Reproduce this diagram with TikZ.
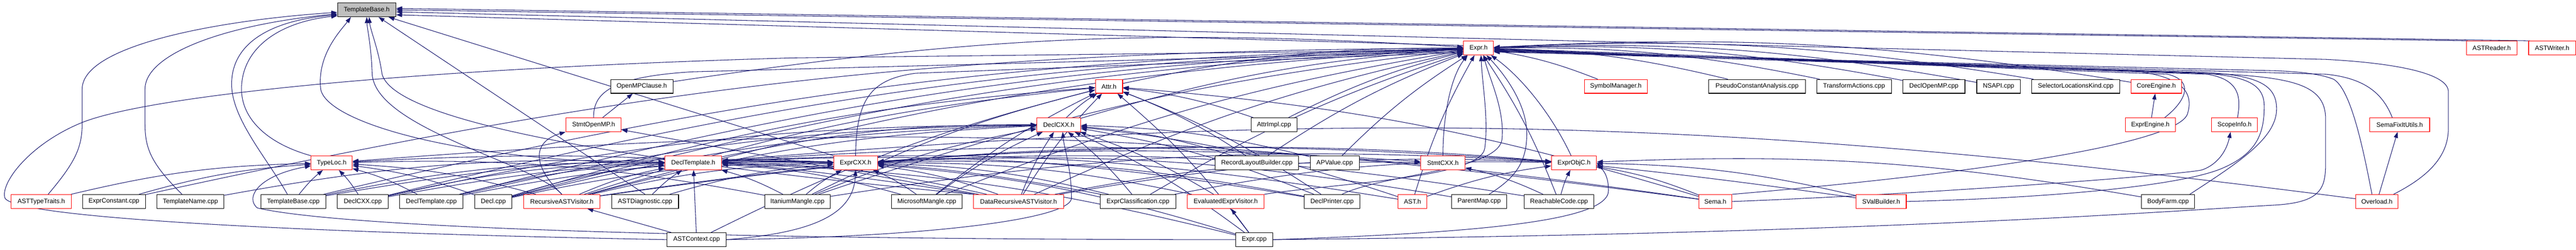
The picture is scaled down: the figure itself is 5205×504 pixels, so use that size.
\documentclass[tikz,border=0pt]{standalone}
\usepackage{fontspec}
\setmainfont{Liberation Sans}
\usetikzlibrary{arrows.meta,backgrounds}
\definecolor{edgec}{HTML}{191970}
\definecolor{redc}{HTML}{FF0000}
\definecolor{grayc}{HTML}{BFBFBF}
\tikzset{
  nd/.style={draw=black, fill=white, line width=0.11pt, minimum height=2.8pt, inner sep=0pt, font=\fontsize{1.29}{1.4}\selectfont},
  rd/.style={nd, draw=redc},
  gd/.style={nd, fill=grayc},
  edg/.style={draw=edgec, line width=0.11pt, -{Triangle[length=1.2pt,width=0.85pt]}},
}
\begin{document}
\begin{tikzpicture}[x=0.1pt,y=-0.1pt]
\useasboundingbox (0,0) rectangle (5205,504);
% row 0
\node[gd, minimum width=11.8pt] (tb) at (741,20) {TemplateBase.h};
% row 1
\node[rd, minimum width=6.04pt] (exprh) at (2987.5,97) {Expr.h};
\node[rd, minimum width=10.2pt] (astreader) at (5034.7,97) {ASTReader.h};
\node[rd, minimum width=9.5pt] (astwriter) at (5156.7,97) {ASTWriter.h};
% row 2
\node[rd, minimum width=5.5pt] (attrh) at (2240.8,174.5) {Attr.h};
\node[nd, minimum width=12.57pt] (openmpclause) at (1296.8,174.5) {OpenMPClause.h};
\node[rd, minimum width=12.67pt] (symbolmgr) at (3265,174.5) {SymbolManager.h};
\node[nd, minimum width=19.5pt] (pseudo) at (3550.2,174.5) {PseudoConstantAnalysis.cpp};
\node[nd, minimum width=15.1pt] (transform) at (3746.2,174.5) {TransformActions.cpp};
\node[nd, minimum width=12.57pt] (declopenmp) at (3907.5,174.5) {DeclOpenMP.cpp};
\node[nd, minimum width=8.8pt] (nsapi) at (4038.3,174.5) {NSAPI.cpp};
\node[nd, minimum width=17.77pt] (selector) at (4194.2,174.5) {SelectorLocationsKind.cpp};
\node[rd, minimum width=10.17pt] (coreengine) at (4356.9,174.5) {CoreEngine.h};
% row 3
\node[rd, minimum width=11.2pt] (stmtopenmp) at (1199.3,252) {StmtOpenMP.h};
\node[rd, minimum width=8.8pt] (declcxxh) at (2139.3,252) {DeclCXX.h};
\node[nd, minimum width=9.33pt] (attrimpl) at (2574.3,252) {AttrImpl.cpp};
\node[rd, minimum width=10.07pt] (exprengine) at (4345,252) {ExprEngine.h};
\node[rd, minimum width=9.3pt] (scopeinfo) at (4515,252) {ScopeInfo.h};
\node[rd, minimum width=12.13pt] (semafixit) at (4848.7,252) {SemaFixItUtils.h};
% row 4
\node[rd, minimum width=8.3pt] (typeloc) at (670.2,329) {TypeLoc.h};
\node[rd, minimum width=11.5pt] (decltemplateh) at (1400.8,329) {DeclTemplate.h};
\node[rd, minimum width=8.83pt] (exprcxxh) at (1728.8,329) {ExprCXX.h};
\node[nd, minimum width=16.84pt] (recordlayout) at (2539.5,329) {RecordLayoutBuilder.cpp};
\node[nd, minimum width=9.9pt] (apvalue) at (2696.8,329) {APValue.cpp};
\node[rd, minimum width=8.96pt] (stmtcxx) at (2915.5,329) {StmtCXX.h};
\node[rd, minimum width=9.1pt] (exprobjc) at (3180.5,329) {ExprObjC.h};
% row 5
\node[rd, minimum width=12.13pt] (asttypetraits) at (83.3,407) {ASTTypeTraits.h};
\node[nd, minimum width=12.7pt] (exprconstant) at (230.2,407) {ExprConstant.cpp};
\node[nd, minimum width=13.6pt] (templatename) at (384.7,407) {TemplateName.cpp};
\node[nd, minimum width=13.07pt] (templatebasecpp) at (592.7,407) {TemplateBase.cpp};
\node[nd, minimum width=10.26pt] (declcxxcpp) at (733,407) {DeclCXX.cpp};
\node[nd, minimum width=12.84pt] (decltemplatecpp) at (871.5,407) {DeclTemplate.cpp};
\node[nd, minimum width=7.5pt] (declcpp) at (996.8,407) {Decl.cpp};
\node[rd, minimum width=15.47pt] (recursive) at (1135.3,407) {RecursiveASTVisitor.h};
\node[nd, minimum width=13.5pt] (astdiag) at (1303.5,407) {ASTDiagnostic.cpp};
\node[nd, minimum width=13.2pt] (itanium) at (1611.3,407) {ItaniumMangle.cpp};
\node[nd, minimum width=14.27pt] (microsoft) at (1872.7,407) {MicrosoftMangle.cpp};
\node[rd, minimum width=18.26pt] (datarec) at (2058,407) {DataRecursiveASTVisitor.h};
\node[nd, minimum width=15.33pt] (exprclass) at (2299.3,407) {ExprClassification.cpp};
\node[rd, minimum width=15.47pt] (evaluated) at (2476.7,407) {EvaluatedExprVisitor.h};
\node[nd, minimum width=11.24pt] (declprinter) at (2691.5,407) {DeclPrinter.cpp};
\node[rd, minimum width=5.86pt] (asth) at (2854,407) {AST.h};
\node[nd, minimum width=11.1pt] (parentmap) at (2988.8,407) {ParentMap.cpp};
\node[nd, minimum width=14pt] (reachable) at (3150,407) {ReachableCode.cpp};
\node[rd, minimum width=6.66pt] (semah) at (3466,407) {Sema.h};
\node[rd, minimum width=10.14pt] (svalbuilder) at (3801,407) {SValBuilder.h};
\node[nd, minimum width=10.67pt] (bodyfarm) at (4380.7,407) {BodyFarm.cpp};
\node[rd, minimum width=8.6pt] (overload) at (4802.7,407) {Overload.h};
% row 6
\node[nd, minimum width=11.9pt] (astcontext) at (1407.5,484) {ASTContext.cpp};
\node[nd, minimum width=7.5pt] (exprcpp) at (2534.2,484) {Expr.cpp};

\begin{scope}[on background layer]
\fill[white] (0,0) rectangle (5205,504);
% into TemplateBase.h
\draw[edg] ([xshift=1.4pt]asttypetraits.north) .. controls (150,330) and (166,300) .. (166,250) -- (166,180) .. controls (166,90) and (450,40) .. ([yshift=-0.5pt]tb.west);
\draw[edg] ([xshift=-1.7pt]templatename.north) .. controls (305,330) and (293,300) .. (293,250) -- (293,180) .. controls (293,110) and (450,50) .. ([yshift=-0.8pt]tb.west);
\draw[edg] ([xshift=-1.2pt]templatebasecpp.north) .. controls (540,320) and (468,240) .. (468,170) .. controls (468,80) and (560,40) .. ([yshift=-1pt]tb.west);
\draw[edg] (typeloc.north west) .. controls (540,290) and (488,240) .. (488,180) .. controls (488,100) and (560,45) .. ([yshift=-1.2pt]tb.west);
\draw[edg] (decltemplateh.west) .. controls (950,330) and (660,250) .. (648,180) .. controls (640,110) and (690,60) .. ([xshift=-3.2pt]tb.south);
\draw[edg] (recursive.north) .. controls (1080,330) and (760,260) .. (752,150) .. controls (750,90) and (742,60) .. (tb.south);
\draw[edg] (datarec.north west) .. controls (1300,330) and (800,250) .. (772,150) .. controls (765,100) and (748,60) .. ([xshift=0.5pt]tb.south);
\draw[edg] (astdiag.north) -- ([xshift=2.4pt]tb.south);
\draw[edg] (exprcxxh.north west) -- ([xshift=4.4pt]tb.south);
\draw[edg] ([yshift=0.5pt]exprh.west) -- ([yshift=-1pt]tb.east);
\draw[edg] ([xshift=0.3pt]astreader.north west) -- (tb.east);
\draw[edg] ([xshift=0.3pt]astwriter.north west) -- ([yshift=0.3pt]tb.east);
\draw[edg] ([xshift=-1pt]overload.north east) .. controls (4900,360) and (4947,320) .. (4947,260) -- (4947,185) .. controls (4947,150) and (4850,128) .. (4700,120) -- ([yshift=-0.4pt]tb.east);
% special curves into Expr.h
\draw[edg] (astcontext.west) .. controls (600,470) and (30,440) .. (10,400) .. controls (0,370) and (60,290) .. (167,247) .. controls (300,195) and (800,140) .. (1600,117) -- ([yshift=-0.4pt]exprh.west);
\draw[edg] (exprcxxh.north) .. controls (1730,200) and (1760,160) .. (1850,148) -- ([yshift=-0.9pt]exprh.west);
\draw[edg] (stmtopenmp.north) .. controls (1199,190) and (1230,155) .. (1400,145) -- ([yshift=-0.7pt]exprh.west);
\draw[edg] (stmtcxx.north) .. controls (2916,220) and (2935,150) .. ([xshift=-2.2pt]exprh.south);
\draw[edg] ([xshift=-0.6pt]exprobjc.north) .. controls (3140,240) and (3080,160) .. ([xshift=2.5pt]exprh.south);
\draw[edg] (evaluated.north east) .. controls (2700,370) and (2990,360) .. (3000,300) .. controls (3008,240) and (2995,170) .. ([xshift=0.5pt]exprh.south);
\draw[edg] ([xshift=2pt]declprinter.north) .. controls (2800,350) and (3030,345) .. (3035,280) .. controls (3040,220) and (3010,160) .. ([xshift=1pt]exprh.south);
\draw[edg] ([xshift=2pt]parentmap.north) .. controls (3060,360) and (3085,330) .. (3085,270) .. controls (3085,210) and (3040,150) .. ([xshift=1.6pt]exprh.south);
% right loops into Expr.h
\draw[edg] (exprcpp.east) .. controls (3800,472) and (4400,425) .. (4600,414) .. controls (4690,408) and (4699,380) .. (4699,330) -- (4699,240) .. controls (4699,175) and (4640,158) .. (4500,150) -- ([yshift=-0.7pt]exprh.east);
\draw[edg] ([xshift=-1pt]bodyfarm.north east) .. controls (4520,330) and (4600,280) .. (4600,220) .. controls (4600,170) and (4560,152) .. (4450,146) -- ([yshift=-0.5pt]exprh.east);
\draw[edg] (svalbuilder.east) .. controls (4200,398) and (4420,370) .. (4490,340) .. controls (4560,310) and (4575,270) .. (4575,215) .. controls (4575,170) and (4540,153) .. (4440,147) -- ([yshift=-0.4pt]exprh.east);
\draw[edg] ([xshift=0.6pt]scopeinfo.north) .. controls (4530,190) and (4520,160) .. (4460,150) -- ([yshift=-0.3pt]exprh.east);
\draw[edg] ([xshift=-2.2pt]exprengine.north east) .. controls (4410,210) and (4440,165) .. (4380,150) -- ([yshift=-0.2pt]exprh.east);
\draw[edg] ([xshift=-1.5pt]semafixit.north) .. controls (4815,190) and (4780,158) .. (4700,150) -- ([yshift=-0.6pt]exprh.east);
\draw[edg] ([xshift=-1pt]overload.north) .. controls (4775,300) and (4750,180) .. (4715,160) .. controls (4690,150) and (4650,145) .. (4600,143) -- ([yshift=-0.8pt]exprh.east);
\draw[edg] (semah.north east) .. controls (4000,350) and (4400,290) .. (4420,230) .. controls (4435,180) and (4400,152) .. (4300,142) -- ([yshift=-0.1pt]exprh.east);
% other special edges
\draw[edg] (exprcpp.west) .. controls (1500,484) and (700,462) .. (520,420) .. controls (495,400) and (520,355) .. ([yshift=-0.6pt]typeloc.west);
\draw[edg] (astcontext.east) .. controls (1650,470) and (1725,430) .. (exprcxxh.south);
\draw[edg] (astcontext.east) .. controls (1900,478) and (2165,440) .. (2165,400) .. controls (2165,340) and (2150,300) .. ([xshift=0.8pt]declcxxh.south);
\draw[edg] (recursive.north) .. controls (1070,330) and (1080,285) .. (stmtopenmp.south west);
\draw[edg] (exprcpp.east) .. controls (3000,470) and (3250,445) .. (3250,385) .. controls (3250,355) and (3240,345) .. (exprobjc.east);
\draw[edg] (semah.east) .. controls (3900,392) and (4420,352) .. (4450,343) .. controls (4485,330) and (4500,300) .. ([xshift=-0.8pt]scopeinfo.south);
\foreach \t/\h in {astcontext/decltemplateh, astcontext/recursive, exprcpp/evaluated, exprengine/coreengine, overload/semafixit, stmtopenmp/openmpclause, datarec/stmtopenmp}
  \draw[edg] (\t) -- (\h);
% generic edges, head to the right of tail
\foreach \t/\h in {attrh/exprh, declcxxh/exprh, openmpclause/exprh, attrimpl/exprh, recordlayout/exprh, apvalue/exprh, exprconstant/exprh, templatebasecpp/exprh, declcxxcpp/exprh, decltemplatecpp/exprh, declcpp/exprh, recursive/exprh, datarec/exprh, itanium/exprh, microsoft/exprh, exprclass/exprh, asth/exprh,
  declcxxh/attrh, recursive/attrh, datarec/attrh, astcontext/attrh, declcpp/attrh, itanium/attrh, microsoft/attrh,
  decltemplateh/declcxxh, recursive/declcxxh, datarec/declcxxh, itanium/declcxxh, microsoft/declcxxh, declcxxcpp/declcxxh, declcpp/declcxxh, decltemplatecpp/declcxxh,
  templatename/decltemplateh, templatebasecpp/decltemplateh, declcxxcpp/decltemplateh, decltemplatecpp/decltemplateh, declcpp/decltemplateh, recursive/decltemplateh, astdiag/decltemplateh,
  templatebasecpp/exprcxxh, declcxxcpp/exprcxxh, decltemplatecpp/exprcxxh, declcpp/exprcxxh, recursive/exprcxxh, astdiag/exprcxxh, itanium/exprcxxh,
  asttypetraits/typeloc, exprconstant/typeloc, templatebasecpp/typeloc,
  recursive/stmtcxx, datarec/stmtcxx,
  recursive/exprobjc, datarec/exprobjc, itanium/exprobjc, asth/exprobjc, exprclass/exprobjc, reachable/exprobjc}
  \draw[edg] (\t) to[bend left=6] (\h);
% generic edges, head to the left of tail
\foreach \t/\h in {symbolmgr/exprh, pseudo/exprh, transform/exprh, declopenmp/exprh, nsapi/exprh, selector/exprh, coreengine/exprh, reachable/exprh,
  attrimpl/attrh, declprinter/attrh, recordlayout/attrh, semah/attrh, exprcpp/attrh,
  asth/declcxxh, exprclass/declcxxh, declprinter/declcxxh, exprcpp/declcxxh, recordlayout/declcxxh, apvalue/declcxxh, evaluated/declcxxh,
  datarec/decltemplateh, itanium/decltemplateh, microsoft/decltemplateh, exprclass/decltemplateh, declprinter/decltemplateh, asth/decltemplateh, exprcpp/decltemplateh, overload/decltemplateh, semah/decltemplateh,
  datarec/exprcxxh, microsoft/exprcxxh, exprclass/exprcxxh, evaluated/exprcxxh, declprinter/exprcxxh, parentmap/exprcxxh, reachable/exprcxxh, exprcpp/exprcxxh, svalbuilder/exprcxxh,
  declcxxcpp/typeloc, decltemplatecpp/typeloc, declcpp/typeloc, recursive/typeloc, datarec/typeloc, itanium/typeloc, semah/typeloc,
  reachable/stmtcxx,
  semah/exprobjc, svalbuilder/exprobjc, bodyfarm/exprobjc}
  \draw[edg] (\t) to[bend right=6] (\h);
\end{scope}
\end{tikzpicture}
\end{document}
